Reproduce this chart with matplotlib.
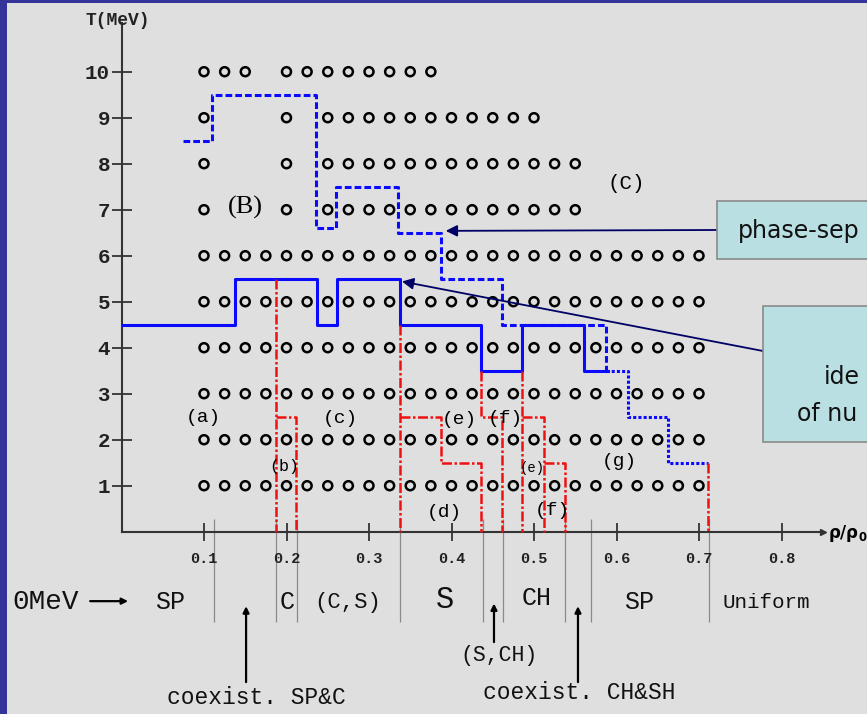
import matplotlib
matplotlib.use("Agg")
import matplotlib.pyplot as plt
from matplotlib.patches import Rectangle

# density grid (rho/rho0) of the computed points
rho_cols = [0.100, 0.125, 0.150, 0.175, 0.200, 0.225, 0.250, 0.275, 0.300,
            0.325, 0.350, 0.375, 0.400, 0.425, 0.450, 0.475, 0.500, 0.525,
            0.550, 0.575, 0.600, 0.625, 0.650, 0.675, 0.700]
row_low = rho_cols                                   # T = 1 ... 6 MeV
row_T7 = [0.100, 0.200] + rho_cols[6:19]             # T = 7, 8
row_T9 = [0.100, 0.200] + rho_cols[6:17]             # T = 9
row_T10 = rho_cols[0:3] + rho_cols[4:12]             # T = 10
T_low = [1, 2, 3, 4, 5, 6]

# boundaries (step lines)
solid_rho = [0.0, 0.137, 0.237, 0.261, 0.337, 0.436, 0.486, 0.561, 0.590]
solid_T = [4.5, 5.5, 4.5, 5.5, 4.5, 3.5, 4.5, 3.5, 3.5]
dash_rho = [0.074, 0.110, 0.236, 0.260, 0.335, 0.387, 0.461, 0.587]
dash_T = [8.5, 9.5, 6.6, 7.5, 6.5, 5.5, 4.5, 3.5]
dot_rho = [0.587, 0.614, 0.663, 0.711]
dot_T = [3.5, 2.5, 1.5, 1.5]

red_lines = [
    ([0.187, 0.187], [5.5, 0]),
    ([0.187, 0.212, 0.212], [2.5, 2.5, 0]),
    ([0.337, 0.337], [4.5, 0]),
    ([0.337, 0.387, 0.387, 0.436, 0.436], [2.5, 2.5, 1.5, 1.5, 0]),
    ([0.436, 0.436, 0.461, 0.461], [3.5, 2.5, 2.5, 0]),
    ([0.486, 0.486], [3.5, 0]),
    ([0.486, 0.512, 0.512], [2.5, 2.5, 0]),
    ([0.512, 0.537, 0.537], [1.5, 1.5, 0]),
    ([0.711, 0.711], [1.5, 0]),
]
gray_rho = [0.112, 0.187, 0.213, 0.338, 0.438, 0.462, 0.538, 0.569, 0.712]

x_ticks = [0.1, 0.2, 0.3, 0.4, 0.5, 0.6, 0.7, 0.8]
y_ticks = [1, 2, 3, 4, 5, 6, 7, 8, 9, 10]

mono = "Liberation Mono"

fig = plt.figure(figsize=(8.67, 7.14), dpi=100)
fig.patch.set_facecolor("#333399")
fig.add_artist(Rectangle((7 / 867, 0), 1, 711 / 714, transform=fig.transFigure,
                         facecolor="#dfdfdf", edgecolor="none", zorder=-5))

ax = fig.add_axes([121.5 / 867, 182.3 / 714, 0.85 * 825 / 867, 11.05 * 46 / 714])
ax.set_facecolor("none")
ax.set_xlim(0, 0.85)
ax.set_ylim(0, 11.05)
for s in ["top", "right"]:
    ax.spines[s].set_visible(False)
for s in ["left", "bottom"]:
    ax.spines[s].set_color("#333333")
    ax.spines[s].set_linewidth(1.5)

ax.set_xticks(x_ticks)
ax.set_xticklabels([f"{v:.1f}" for v in x_ticks], fontfamily=mono,
                   fontweight="bold", fontsize=11)
ax.set_yticks(y_ticks)
ax.set_yticklabels([str(v) for v in y_ticks], fontfamily=mono,
                   fontweight="bold", fontsize=15)
ax.tick_params(axis="x", direction="inout", length=13, width=1.3,
               color="#333333", pad=8, labelcolor="#222222")
ax.tick_params(axis="y", direction="inout", length=14.5, width=1.3,
               color="#333333", pad=1, labelcolor="#222222")

# axis arrow heads and labels
ax.plot(0.85, 0, marker=">", ms=5, color="#333333", clip_on=False)
ax.text(0.856, -0.05, r"$\mathbf{\rho/\rho_0}$", fontsize=12, ha="left",
        va="center")
ax.text(-0.005, 11.12, "T(MeV)", fontfamily=mono, fontweight="bold",
        fontsize=13, ha="center", va="center", color="#222222")

# points
circ = dict(s=42, facecolors="none", edgecolors="black", linewidths=1.8,
            zorder=2, clip_on=False)
for T in T_low:
    ax.scatter(row_low, [T] * len(row_low), **circ)
ax.scatter(row_T7, [7] * len(row_T7), **circ)
ax.scatter(row_T7, [8] * len(row_T7), **circ)
ax.scatter(row_T9, [9] * len(row_T9), **circ)
ax.scatter(row_T10, [10] * len(row_T10), **circ)

# boundaries
ax.plot(solid_rho, solid_T, drawstyle="steps-post", color="#0a0aff", lw=2.2,
        zorder=3)
ax.plot(dash_rho, dash_T, drawstyle="steps-post", color="#0a0aff", lw=2.2,
        linestyle=(0, (2.2, 1.0)), zorder=3)
ax.plot(dot_rho, dot_T, drawstyle="steps-post", color="#0a0aff", lw=2.2,
        linestyle=(0, (1.0, 0.7)), zorder=3)
for xs, ys in red_lines:
    ax.plot(xs, ys, color="#ee1111", lw=1.8, linestyle=(0, (4, 1, 1, 1)),
            zorder=3, clip_on=False)

ax.vlines(gray_rho, -1.96, 0.28, colors="#8a8a8a", lw=0.9, clip_on=False,
          zorder=1)

# region labels
lab = dict(fontfamily=mono, fontsize=14, ha="center", va="center")
ax.text(0.099, 2.49, "(a)", **lab)
ax.text(0.197, 1.41, "(b)", fontfamily=mono, fontsize=12, ha="center", va="center")
ax.text(0.265, 2.47, "(c)", **lab)
ax.text(0.391, 0.41, "(d)", **lab)
ax.text(0.410, 2.43, "(e)", **lab)
ax.text(0.465, 2.47, "(f)", **lab)
ax.text(0.498, 1.38, "(e)", fontfamily=mono, fontsize=10, ha="center", va="center")
ax.text(0.522, 0.47, "(f)", **lab)
ax.text(0.603, 1.52, "(g)", **lab)
ax.text(0.150, 7.04, "(B)", fontfamily="Liberation Serif", fontsize=19,
        ha="center", va="center")
ax.text(0.6115, 7.58, "(C)", fontfamily=mono, fontsize=15, ha="center",
        va="center")

# zero temperature phases below the axis
bot = dict(fontfamily=mono, ha="center", va="center", color="#111111")
ax.text(-0.092, -1.53, "0MeV", fontsize=20, **bot)
ax.text(0.059, -1.53, "SP", fontsize=18, **bot)
ax.text(0.2006, -1.53, "C", fontsize=18, **bot)
ax.text(0.2745, -1.53, "(C,S)", fontsize=16, **bot)
ax.text(0.392, -1.48, "S", fontsize=22, **bot)
ax.text(0.5036, -1.44, "CH", fontsize=18, **bot)
ax.text(0.627, -1.53, "SP", fontsize=18, **bot)
ax.text(0.781, -1.53, "Uniform", fontsize=15, **bot)
ax.text(0.4576, -2.70, "(S,CH)", fontsize=15.5, **bot)
ax.text(0.163, -3.61, "coexist. SP&C", fontsize=16.5, **bot)
ax.text(0.5545, -3.50, "coexist. CH&SH", fontsize=16.5, **bot)

arr = dict(arrowstyle="-|>", color="black", lw=1.6, mutation_scale=9,
           shrinkA=0, shrinkB=0)
ax.annotate("", xy=(0.008, -1.51), xytext=(-0.038, -1.51), arrowprops=arr,
            annotation_clip=False)
ax.annotate("", xy=(0.151, -1.62), xytext=(0.151, -3.27), arrowprops=arr,
            annotation_clip=False)
ax.annotate("", xy=(0.4515, -1.56), xytext=(0.4515, -2.40), arrowprops=arr,
            annotation_clip=False)
ax.annotate("", xy=(0.5533, -1.62), xytext=(0.5533, -3.27), arrowprops=arr,
            annotation_clip=False)

# callout boxes on the right (cut by the right edge, as in the slide)
box = dict(transform=fig.transFigure, facecolor="#b9dfe2", edgecolor="#8a8a8a",
           lw=1.2, zorder=4)
fig.add_artist(Rectangle((717 / 867, (714 - 259) / 714), 0.3, 58 / 714, **box))
fig.add_artist(Rectangle((763 / 867, (714 - 442) / 714), 0.3, 136 / 714, **box))
fig.text(738 / 867, (714 - 231) / 714, "phase-sep", fontsize=17,
         ha="left", va="center", zorder=6, color="#111111")
fig.text(824 / 867, (714 - 377) / 714, "ide", fontsize=17,
         ha="left", va="center", zorder=6, color="#111111")
fig.text(797 / 867, (714 - 414) / 714, "of nu", fontsize=17,
         ha="left", va="center", zorder=6, color="#111111")

call = dict(arrowstyle="-|>", color="#000066", lw=1.3, mutation_scale=17,
            shrinkA=0, shrinkB=0)
ax.annotate("", xy=(0.393, 6.54), xytext=(717, 714 - 230),
            textcoords="figure pixels", arrowprops=call, annotation_clip=False)
ax.annotate("", xy=(0.340, 5.44), xytext=(763, 714 - 351),
            textcoords="figure pixels", arrowprops=call, annotation_clip=False)

fig.savefig("out.png", dpi=100, facecolor=fig.get_facecolor())
